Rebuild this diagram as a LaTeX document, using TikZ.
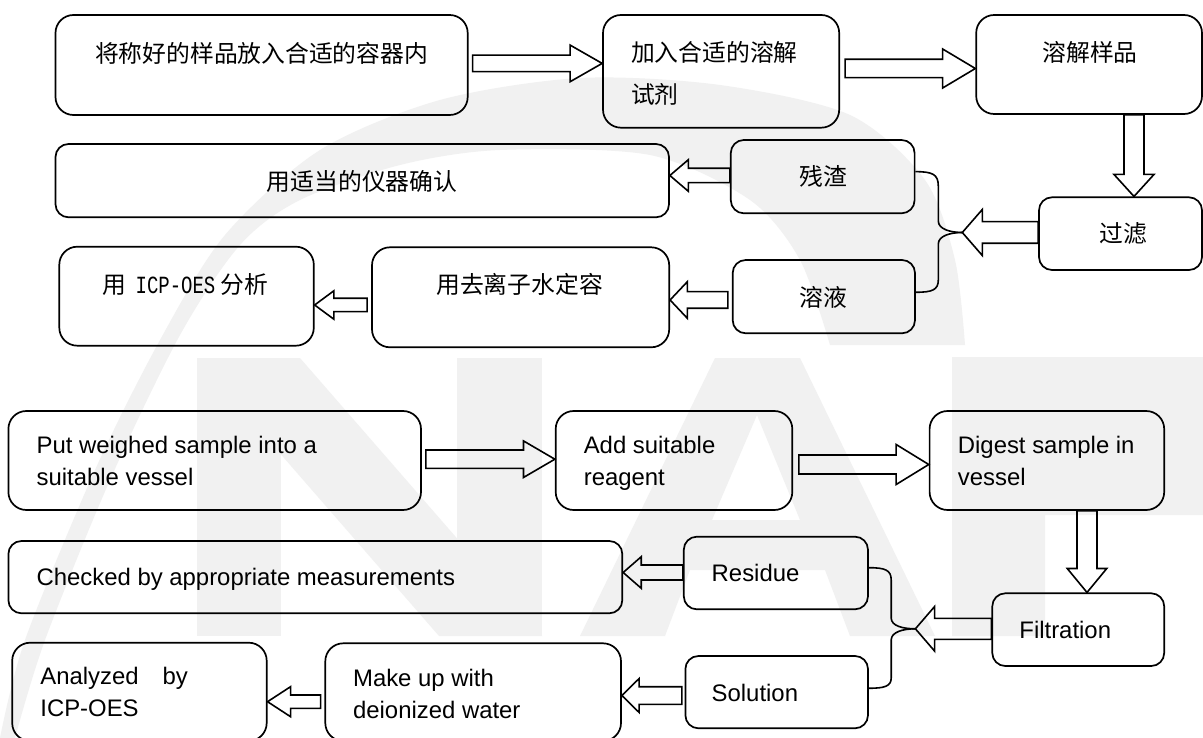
\documentclass[tikz,border=0pt]{standalone}
\usepackage{fontspec}
\setmainfont{Liberation Sans}
\newfontfamily\cjkf{Noto Sans CJK SC}
\newfontfamily\monof{Liberation Mono}
\usetikzlibrary{calc}
\tikzset{
  bigbox/.style={draw=black, line width=1.7pt, rounded corners=18pt, inner sep=0pt},
  smallbox/.style={draw=black, line width=1.7pt, rounded corners=13pt, inner sep=0pt},
  zh/.style={font=\cjkf\fontsize{23.8}{30}\selectfont, inner sep=0pt, anchor=base},
  zhl/.style={zh, anchor=base west},
  en/.style={font=\fontsize{23.9}{30}\selectfont, inner sep=0pt, anchor=base west},
  blk/.style={draw=black, line width=1.6pt, line join=miter},
  conn/.style={draw=black, line width=1.6pt},
  wm/.style={fill=black!5.5, draw=none}
}
% right-pointing block arrow: from, to, y, gap, shaft half, head half, head length
\newcommand\barR[7]{\draw[blk] let \p1=(#1), \p2=(#2), \p3=(0,#3) in
  (\x1+#4pt,\y3+#5pt) -- (\x2-#7pt,\y3+#5pt) -- (\x2-#7pt,\y3+#6pt) -- (\x2,\y3)
  -- (\x2-#7pt,\y3-#6pt) -- (\x2-#7pt,\y3-#5pt) -- (\x1+#4pt,\y3-#5pt) -- cycle;}
% left-pointing block arrow
\newcommand\barL[7]{\draw[blk] let \p1=(#1), \p2=(#2), \p3=(0,#3) in
  (\x1-#4pt,\y3+#5pt) -- (\x2+#7pt,\y3+#5pt) -- (\x2+#7pt,\y3+#6pt) -- (\x2,\y3)
  -- (\x2+#7pt,\y3-#6pt) -- (\x2+#7pt,\y3-#5pt) -- (\x1-#4pt,\y3-#5pt) -- cycle;}
% down-pointing block arrow: from, to, x, shaft half, head half, head length
\newcommand\barD[6]{\draw[blk] let \p1=(#1), \p2=(#2), \p3=(#3,0) in
  (\x3-#4pt,\y1) -- (\x3-#4pt,\y2+#6pt) -- (\x3-#5pt,\y2+#6pt) -- (\x3,\y2)
  -- (\x3+#5pt,\y2+#6pt) -- (\x3+#4pt,\y2+#6pt) -- (\x3+#4pt,\y1) -- cycle;}
\begin{document}
\begin{tikzpicture}[x=1pt,y=-1pt]
\useasboundingbox (0,0) rectangle (1203,738);
\clip (0,0) rectangle (1203,738);
\fill[white] (0,0) rectangle (1203,738);
% ---------- watermark ----------
\fill[wm] plot[smooth] coordinates {(0,738) (25,640) (95,470) (160,340) (225,235) (320,150) (440,100) (580,78) (720,85) (850,115) (925,180) (955,260) (965,345)}
  -- plot[smooth] coordinates {(830,345) (800,260) (750,200) (650,155) (500,150) (400,165) (300,200) (240,245) (180,335) (110,480) (45,640) (15,738)} -- cycle;
\fill[wm] (197,358) -- (281,358) -- (281,636) -- (197,636) -- cycle;
\fill[wm] (197,358) -- (300,358) -- (542,636) -- (439,636) -- cycle;
\fill[wm] (457,358) -- (542,358) -- (542,636) -- (457,636) -- cycle;
\fill[wm, even odd rule] (715,358) -- (800,358) -- (935,636) -- (850,636) -- (825,570) -- (690,570) -- (665,636) -- (580,636) -- cycle
  (757,415) -- (800,520) -- (712,520) -- cycle;
\fill[wm] (952,357) -- (1203,357) -- (1203,515) -- (1045,515) -- (1045,636) -- (952,636) -- cycle;
% ---------- top (Chinese) boxes ----------
\node[bigbox, minimum width=412.2, minimum height=100] (A1) at (261.6,65) {};
\node[bigbox, minimum width=236.2, minimum height=112.7] (A2) at (721.1,71.35) {};
\node[bigbox, minimum width=225.8, minimum height=99] (A3) at (1089.1,64.5) {};
\node[smallbox, minimum width=613.5, minimum height=73.3] (Chk) at (362.25,180.65) {};
\node[smallbox, minimum width=183.8, minimum height=73.3] (R1) at (822.7,176.65) {};
\node[smallbox, minimum width=163, minimum height=72.7] (F1) at (1120.5,233.65) {};
\node[smallbox, minimum width=182.3, minimum height=73.3] (S1) at (823.85,296.65) {};
\node[bigbox, minimum width=297.2, minimum height=100] (Mk1) at (520.6,297.3) {};
\node[bigbox, minimum width=254.5, minimum height=99] (ICP) at (186.55,296.2) {};
% texts
\node[zh] (tA1) at (261.6,63) {将称好的样品放入合适的容器内};
\node[zhl] (tA2a) at (630.8,62) {加入合适的溶解};
\node[zhl] (tA2b) at (630.8,104) {试剂};
\node[zh] (tA3) at (1090,62) {溶解样品};
\node[zh] (tChk) at (362,190.7) {用适当的仪器确认};
\node[zh] (tR1) at (823,186) {残渣};
\node[zh] (tF1) at (1123,242.3) {过滤};
\node[zh] (tS1) at (823,306) {溶液};
\node[zh] (tMk1) at (519.6,294) {用去离子水定容};
\node[zhl] (tICP) at (102.6,294) {用\hspace{9pt}\scalebox{1}[1.3]{\monof\fontsize{19}{20}\selectfont ICP-OES}\hspace{5pt}分析};
% arrows
\barR{A1.east}{A2.west}{63.4}{4}{8.3}{18.3}{32}
\barR{A2.east}{A3.west}{68.5}{5}{9.2}{19.5}{32.7}
\barD{A3.south}{F1.north}{1134}{10}{20}{22}
\coordinate (J1) at (962.3,232.5);
\barL{F1.west}{J1}{232.5}{0}{10.8}{23}{20}
\barL{R1.west}{Chk.east}{175.5}{0}{7.2}{15.8}{18.5}
\barL{S1.west}{Mk1.east}{300}{4}{8.3}{18.3}{17.3}
\barL{Mk1.west}{ICP.east}{305}{4}{6.7}{14.2}{19.2}
\draw[conn] ([yshift=5pt]R1.east) .. controls (932,171.7) and (938.3,174) .. (938.3,186) -- (938.3,221) .. controls (938.3,229) and (950,232.5) .. (J1);
\draw[conn] (J1) .. controls (950,232.5) and (938.3,236) .. (938.3,244) -- (938.3,280) .. controls (938.3,290) and (932,292.3) .. ([yshift=4.4pt]S1.east);
% ---------- bottom (English) boxes ----------
\node[bigbox, minimum width=412.6, minimum height=99] (B1) at (214.7,460.5) {};
\node[bigbox, minimum width=236.6, minimum height=99] (B2) at (674,460.5) {};
\node[bigbox, minimum width=234.6, minimum height=99] (B3) at (1046.9,460.5) {};
\node[smallbox, minimum width=613.9, minimum height=72.3] (Chk2) at (315.35,577.15) {};
\node[smallbox, minimum width=184.2, minimum height=72.6] (R2) at (775.9,573) {};
\node[smallbox, minimum width=171.9, minimum height=72.7] (F2) at (1078.25,629.65) {};
\node[smallbox, minimum width=182.6, minimum height=72.3] (S2) at (776.7,692.15) {};
\node[bigbox, minimum width=295.7, minimum height=97.7] (Mk2) at (473.15,692.15) {};
\node[bigbox, minimum width=254.5, minimum height=98.3] (An) at (139.45,691.85) {};
% texts
\node[en] (tB1a) at (36.4,453.5) {Put weighed sample into a};
\node[en] (tB1b) at (36.4,485.5) {suitable vessel};
\node[en] (tB2a) at (583.6,453.5) {Add suitable};
\node[en] (tB2b) at (583.6,485.5) {reagent};
\node[en] (tB3a) at (957.7,453.5) {Digest sample in};
\node[en] (tB3b) at (957.7,485.5) {vessel};
\node[en] (tChk2) at (36.4,585.5) {Checked by appropriate measurements};
\node[en] (tR2) at (711.5,581.8) {Residue};
\node[en] (tF2) at (1019.2,638.5) {Filtration};
\node[en] (tS2) at (711.5,701) {Solution};
\node[en] (tMk2a) at (352.9,686.8) {Make up with};
\node[en] (tMk2b) at (352.9,718.5) {deionized water};
\node[en] (tAn1) at (40.2,684.5) {Analyzed\hspace{24pt}by};
\node[en] (tAn2) at (40.2,716.8) {ICP-OES};
% arrows
\barR{B1.east}{B2.west}{459.2}{4}{9.2}{18.3}{31.4}
\barR{B2.east}{B3.west}{464.5}{5.7}{9.5}{20}{32.6}
\barD{B3.south}{F2.north}{1087}{10}{19.8}{24}
\coordinate (J2) at (915.4,628.8);
\barL{F2.west}{J2}{628.8}{0}{10.5}{22.3}{19.2}
\barL{R2.west}{Chk2.east}{572.5}{0}{7.5}{15.8}{18.1}
\barL{S2.west}{Mk2.east}{695.5}{2.7}{8.8}{17}{17.3}
\barL{Mk2.west}{An.east}{701.7}{3.8}{6.7}{15}{23}
\draw[conn] ([yshift=5.3pt]R2.east) .. controls (885,567.7) and (891.2,570) .. (891.2,580) -- (891.2,618) .. controls (891.2,626) and (903,628.8) .. (J2);
\draw[conn] (J2) .. controls (903,628.8) and (891.2,632) .. (891.2,640) -- (891.2,678) .. controls (891.2,686) and (885,688.3) .. ([yshift=3.9pt]S2.east);
\end{tikzpicture}
\end{document}
